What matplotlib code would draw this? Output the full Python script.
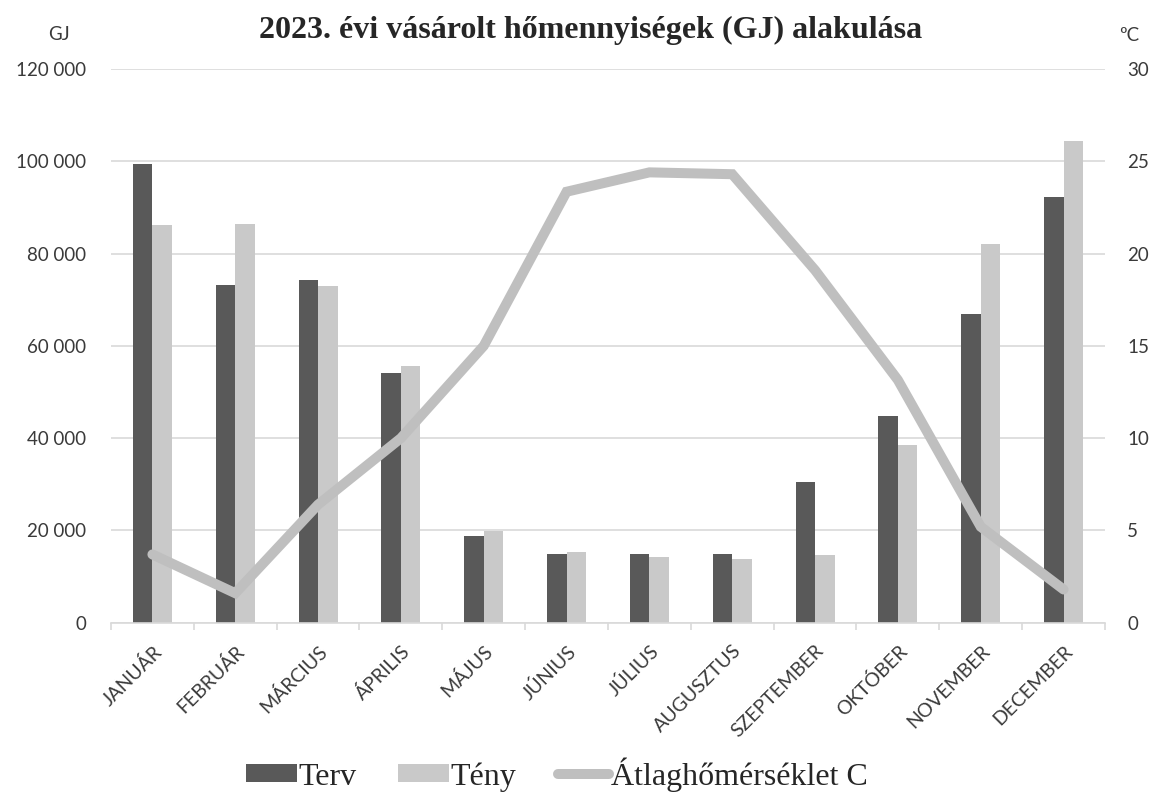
import matplotlib
matplotlib.use("Agg")
import matplotlib.pyplot as plt
import numpy as np
from matplotlib.ticker import FuncFormatter, FixedLocator

months = ["JANUÁR", "FEBRUÁR", "MÁRCIUS", "ÁPRILIS", "MÁJUS", "JÚNIUS",
          "JÚLIUS", "AUGUSZTUS", "SZEPTEMBER", "OKTÓBER", "NOVEMBER", "DECEMBER"]
terv = [99400, 73200, 74200, 54200, 18900, 14900, 14900, 14900, 30600, 44900, 66800, 92200]
teny = [86300, 86500, 73000, 55600, 19900, 15300, 14300, 13900, 14700, 38600, 82000, 104500]
temp = [3.7, 1.6, 6.4, 10.0, 15.0, 23.35, 24.4, 24.3, 19.1, 13.15, 5.2, 1.8]

title = "2023. évi vásárolt hőmennyiségek (GJ) alakulása"
left_unit = "GJ"
right_unit = "ºC"
legend_labels = ["Terv", "Tény", "Átlaghőmérséklet C"]

c_terv = "#595959"
c_teny = "#c9c9c9"
c_line = "#bfbfbf"
c_grid = "#d9d9d9"
c_text = "#3a3a3a"
tick_font = "Lato"
serif = "Liberation Serif"

fig = plt.figure(figsize=(11.55, 7.95), dpi=100)
ax = fig.add_axes([0.0961, 0.2167, 0.8606, 0.6965])
ax2 = ax.twinx()

x = np.arange(len(months))
w = 0.236
b1 = ax.bar(x - w / 2, terv, width=w, color=c_terv, zorder=2)
b2 = ax.bar(x + w / 2, teny, width=w, color=c_teny, zorder=2)
ln, = ax2.plot(x, temp, color=c_line, lw=7.2, solid_capstyle="round",
               solid_joinstyle="miter", zorder=3)

ax.set_xlim(-0.5, len(months) - 0.5)
ax.set_ylim(0, 120000)
ax2.set_ylim(0, 30)
ax.set_yticks(np.arange(0, 120001, 20000))
ax2.set_yticks(np.arange(0, 31, 5))
ax.yaxis.set_major_formatter(FuncFormatter(lambda v, p: f"{int(v):,}".replace(",", " ")))
ax.grid(axis="y", color=c_grid, lw=1.2, zorder=0)
ax.set_axisbelow(True)

ax.set_xticks(x)
ax.set_xticklabels(months, rotation=45, ha="right", rotation_mode="anchor",
                   fontsize=14, color=c_text, family=tick_font)
ax.xaxis.set_minor_locator(FixedLocator(np.arange(-0.5, len(months), 1.0)))
ax.tick_params(axis="x", which="major", length=0, pad=14)
ax.tick_params(axis="x", which="minor", length=5, color=c_grid, width=1.2)
ax.tick_params(axis="y", length=0, labelsize=13.5, labelcolor=c_text, pad=18)
for t in ax.get_yticklabels():
    t.set_family(tick_font)
ax2.tick_params(axis="y", length=0, labelsize=13.5, labelcolor=c_text, pad=16)
for t in ax2.get_yticklabels():
    t.set_family(tick_font)

for a in (ax, ax2):
    for s in ("top", "left", "right"):
        a.spines[s].set_visible(False)
ax.spines["bottom"].set_color(c_grid)
ax.spines["bottom"].set_linewidth(1.2)
ax2.spines["bottom"].set_visible(False)

fig.text(0.511, 0.962, title, ha="center", va="center", fontsize=23,
         fontweight="bold", family=serif, color="#262626")
fig.text(0.051, 0.957, left_unit, ha="center", va="center", fontsize=13.5,
         family=tick_font, color=c_text)
fig.text(0.978, 0.955, right_unit, ha="center", va="center", fontsize=13.5,
         family=tick_font, color=c_text)

leg = fig.legend([b1, b2, ln], legend_labels, loc="center", bbox_to_anchor=(0.482, 0.026),
                 ncol=3, frameon=False, prop={"family": serif, "size": 23},
                 handlelength=1.6, handleheight=0.5, handletextpad=0.05,
                 columnspacing=1.3, labelcolor="#262626")

fig.savefig("out.png", dpi=100)
